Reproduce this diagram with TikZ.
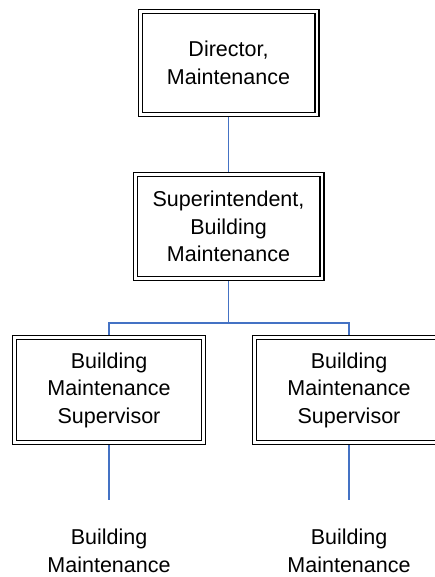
\documentclass[tikz,border=0pt]{standalone}
\usepackage{fontspec}
\setmainfont{Liberation Sans}
\begin{document}
\begin{tikzpicture}[x=1pt,y=-1pt,
  post/.style={draw=black, double=white, double distance=2.6pt, line width=1.4pt,
    outer sep=2.7pt, inner sep=0pt, align=center,
    font=\fontsize{21.5}{27.5}\selectfont},
  plain/.style={inner sep=0pt, align=center, font=\fontsize{21.5}{27.5}\selectfont},
  link/.style={draw={rgb,255:red,68;green,114;blue,196}, line width=1.5pt}]
  \clip (0,0) rectangle (435,577);

  % org boxes
  \node[post, minimum width=176.6pt, minimum height=102.6pt] (dir) at (228.5,63)
    {Director,\\Maintenance};
  \node[post, minimum width=186.6pt, minimum height=103.6pt] (sup) at (228.5,226.5)
    {Superintendent,\\Building\\Maintenance};
  \node[post, minimum width=188.6pt, minimum height=104.6pt] (bmsA) at (109,390)
    {Building\\Maintenance\\Supervisor};
  \node[post, minimum width=188.6pt, minimum height=104.6pt] (bmsB) at (349,390)
    {Building\\Maintenance\\Supervisor};
  \node[plain] (bmA) at (109,551) {Building\\Maintenance};
  \node[plain] (bmB) at (349,551) {Building\\Maintenance};

  \coordinate (fork) at (228.5,323);
  \coordinate (endA) at (109,500);
  \coordinate (endB) at (349,500);

  % reporting lines
  \draw[link] (dir.south) -- (sup.north);
  \draw[link] (sup.south) -- (fork);
  \draw[link] (bmsA.north) |- (fork) -| (bmsB.north);
  \draw[link] (bmsA.south) -- (endA);
  \draw[link] (bmsB.south) -- (endB);
\end{tikzpicture}
\end{document}
